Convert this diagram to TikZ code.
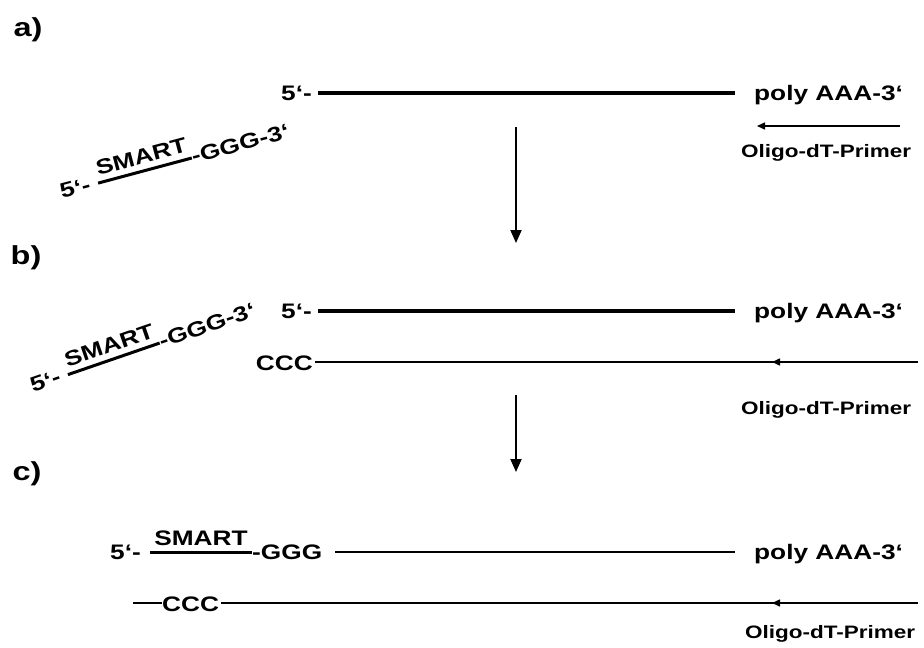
\documentclass[tikz,border=0pt]{standalone}
\usepackage{fontspec}
\usetikzlibrary{arrows.meta}
\newfontfamily\labfont{Liberation Sans}[FakeStretch=1.25]
\begin{document}
\begin{tikzpicture}[x=1pt,y=-1pt,
  lbl/.style={inner sep=0pt, font=\labfont\bfseries\fontsize{21}{24}\selectfont},
  small/.style={inner sep=0pt, font=\labfont\bfseries\fontsize{18}{20}\selectfont},
  head/.style={inner sep=0pt, font=\labfont\bfseries\fontsize{26}{29}\selectfont},
  thickstrand/.style={line width=3.5pt},
  midstrand/.style={line width=2.2pt},
  thinstrand/.style={line width=1.6pt},
  smartline/.style={line width=3pt},
  downarrow/.style={line width=2pt, -{Triangle[width=11pt,length=13pt]}},
  primer/.style={line width=1.5pt, -{Triangle[width=7pt,length=8pt]}}]
\fill[white] (0,0) rectangle (924,648);
\useasboundingbox (0,0) rectangle (924,648);

% section labels
\node[head] (la) at (28,30) {a)};
\node[head] (lb) at (26,258) {b)};
\node[head] (lc) at (27,474) {c)};

% ---------- a) ----------
\node[lbl, anchor=base east] (a5) at (312,100) {5‘-};
\coordinate (a1) at (318,93);
\coordinate (a2) at (735,93);
\draw[thickstrand] (a1) -- (a2);
\node[lbl, anchor=base west] (apoly) at (754,100) {poly AAA-3‘};
\coordinate (ap1) at (900,126);
\coordinate (ap2) at (757,126);
\draw[primer] (ap1) -- (ap2);
\node[small, anchor=base] (aolig) at (826,157) {Oligo-dT-Primer};

\begin{scope}[shift={(62,199)}, rotate=15, every node/.append style={transform shape}]
  \node[lbl, anchor=base west] (ar5) at (0,0) {5‘-};
  \coordinate (as1) at (39,-6);
  \coordinate (as2) at (136,-6);
  \draw[smartline] (as1) -- (as2);
  \node[lbl, anchor=base] (asm) at (87.5,-13) {SMART};
  \node[lbl, anchor=base west] (ag) at (136,0) {-GGG-3‘};
\end{scope}

\coordinate (v1a) at (516,127);
\coordinate (v1b) at (516,243);
\draw[downarrow] (v1a) -- (v1b);

% ---------- b) ----------
\node[lbl, anchor=base east] (b5) at (312,318) {5‘-};
\coordinate (b1) at (318,311);
\coordinate (b2) at (735,311);
\draw[thickstrand] (b1) -- (b2);
\node[lbl, anchor=base west] (bpoly) at (754,318) {poly AAA-3‘};
\node[lbl, anchor=base east] (bccc) at (313,370) {CCC};
\coordinate (bc2) at (918,362);
\coordinate (bcm) at (772,362);
\draw[thinstrand] (bccc.east |- bc2) ++(2,0) -- (bc2);
\draw[primer] (bc2) -- (bcm);
\node[small, anchor=base] (bolig) at (826,414) {Oligo-dT-Primer};

\begin{scope}[shift={(33,393)}, rotate=19, every node/.append style={transform shape}]
  \node[lbl, anchor=base west] (br5) at (0,0) {5‘-};
  \coordinate (bs1) at (39,-6);
  \coordinate (bs2) at (136,-6);
  \draw[smartline] (bs1) -- (bs2);
  \node[lbl, anchor=base] (bsm) at (87.5,-13) {SMART};
  \node[lbl, anchor=base west] (bg) at (136,0) {-GGG-3‘};
\end{scope}

\coordinate (v2a) at (516,395);
\coordinate (v2b) at (516,472);
\draw[downarrow] (v2a) -- (v2b);

% ---------- c) ----------
\node[lbl, anchor=base west] (c5) at (110,559) {5‘-};
\coordinate (cs1) at (150,552);
\coordinate (cs2) at (252,552);
\draw[smartline] (cs1) -- (cs2);
\node[lbl, anchor=base] (csm) at (201,545) {SMART};
\node[lbl, anchor=base west] (cg) at (252,559) {-GGG};
\coordinate (c1) at (335,552);
\coordinate (c2) at (735,552);
\draw[midstrand] (c1) -- (c2);
\node[lbl, anchor=base west] (cpoly) at (754,559) {poly AAA-3‘};

\coordinate (cl0) at (133,603);
\node[lbl, anchor=base west] (cccc) at (162,611) {CCC};
\draw[thinstrand] (cl0) -- (cccc.west |- cl0);
\coordinate (cc2) at (918,603);
\coordinate (ccm) at (772,603);
\draw[thinstrand] (cccc.east |- cc2) ++(2,0) -- (cc2);
\draw[primer] (cc2) -- (ccm);
\node[small, anchor=base] (colig) at (830,638) {Oligo-dT-Primer};
\end{tikzpicture}
\end{document}
